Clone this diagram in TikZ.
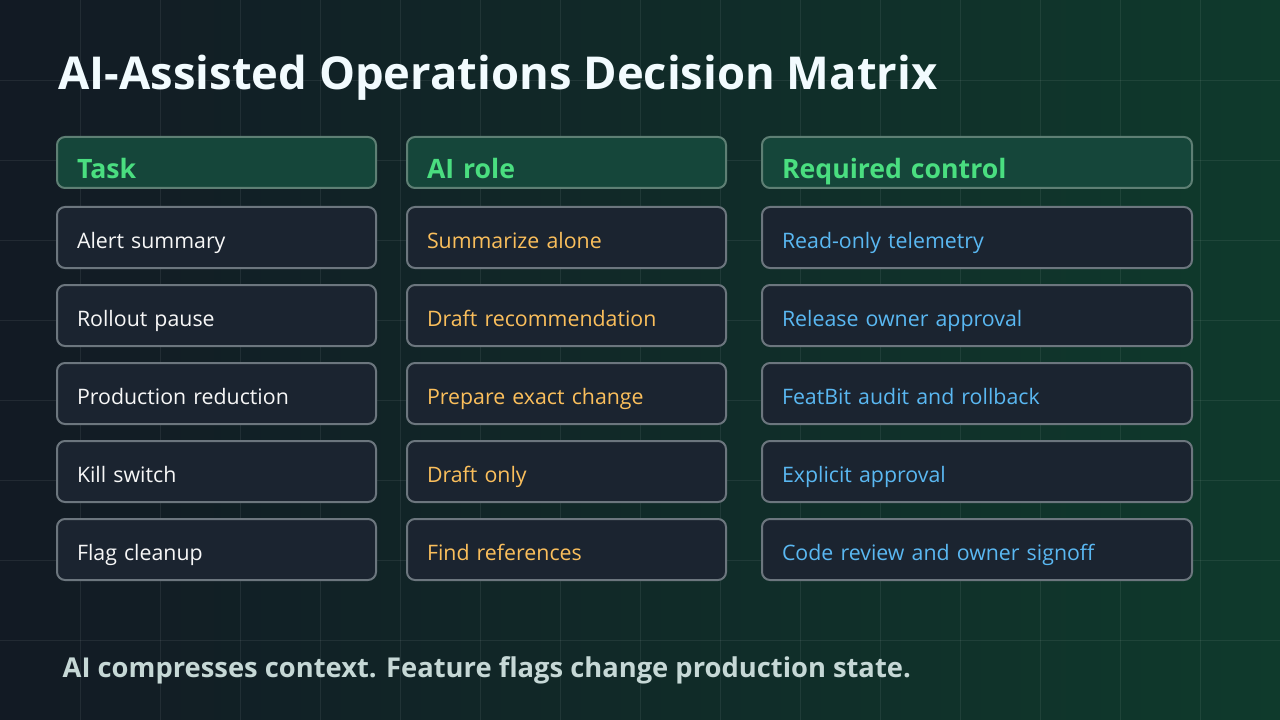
\documentclass[tikz,border=0pt]{standalone}
\usepackage{fontspec}
\setmainfont{Open Sans}
\usetikzlibrary{positioning}
\definecolor{bgA}{HTML}{121A24}
\definecolor{bgB}{HTML}{0F3A2C}
\definecolor{headfill}{HTML}{15463A}
\definecolor{headline}{HTML}{5E7F74}
\definecolor{cellfill}{HTML}{1B2430}
\definecolor{cellline}{HTML}{6C767E}
\definecolor{taskgreen}{HTML}{4ADE80}
\definecolor{rolecol}{HTML}{FBBF5C}
\definecolor{ctrlcol}{HTML}{5AB8F2}
\definecolor{footcol}{HTML}{C6D8D6}
\begin{document}
\begin{tikzpicture}[x=0.75pt,y=-0.75pt,
    head/.style ={draw=headline, fill=headfill, line width=1.5pt, rounded corners=6pt,
      minimum height=38.25pt, text width=#1, inner xsep=15pt, inner ysep=0pt, anchor=north west,
      align=left, font=\bfseries\fontsize{20}{24}\selectfont, text=taskgreen,
      text height=24pt, text depth=0pt},
    cell/.style ={draw=cellline, fill=cellfill, line width=1.5pt, rounded corners=6pt,
      minimum height=45.75pt, text width=#1, inner xsep=15pt, inner ysep=0pt, anchor=north west,
      align=left, font=\fontsize{16}{19}\selectfont, text height=16pt, text depth=0pt}]
   \useasboundingbox (0,0) rectangle (1280,720);
   \shade[shading angle=135, left color=bgA, right color=bgB] (0,0) rectangle (1280,720);
   \foreach \gx in {80,160,...,1200}
     \draw[white, opacity=0.07] (\gx,0) -- (\gx,720);
   \foreach \gy in {80,160,...,640}
     \draw[white, opacity=0.07] (0,\gy) -- (1280,\gy);

   \node[anchor=west, text=white!95!cyan, font=\bfseries\fontsize{34}{40}\selectfont] (title) at (54,78)
     {AI-Assisted Operations Decision Matrix};

   \node[head=209.25pt] (htask) at (56,136) {Task};
   \node[head=209.25pt] (hrole) at (406,136) {AI role};
   \node[head=292.5pt]  (hctrl) at (761,136) {Required control};

   \foreach \i/\task/\role/\ctrl in {
       1/Alert summary/Summarize alone/Read-only telemetry,
       2/Rollout pause/Draft recommendation/Release owner approval,
       3/Production reduction/Prepare exact change/FeatBit audit and rollback,
       4/Kill switch/Draft only/Explicit approval,
       5/Flag cleanup/Find references/Code review and owner signoff} {
     \node[cell=209.25pt, text=white!94!gray] (task\i) at (56,128+78*\i) {\task};
     \node[cell=209.25pt, text=rolecol] (role\i) at (406,128+78*\i) {\role};
     \node[cell=292.5pt, text=ctrlcol] (ctrl\i) at (761,128+78*\i) {\ctrl};
   }

   \node[anchor=west, text=footcol, font=\bfseries\fontsize{20.5}{24}\selectfont] (foot) at (58,670)
     {AI compresses context. Feature flags change production state.};
 \end{tikzpicture}
\end{document}
